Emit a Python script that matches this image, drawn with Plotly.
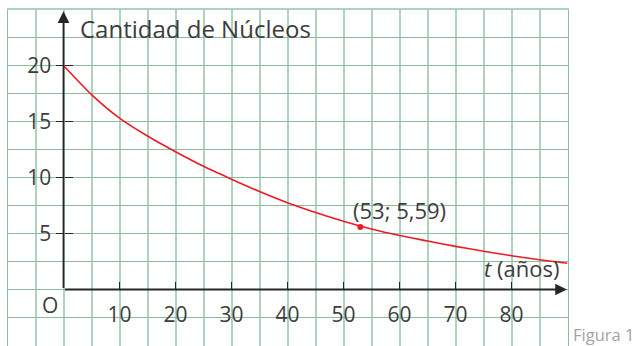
import plotly.graph_objects as go

# Decay curve readings: time in years, number of nuclei
t_years = [0, 5, 10, 15, 20, 25, 30, 35, 40, 45, 50, 55, 60, 65, 70, 75, 80, 85, 90]
nuclei = [20.0, 17.4, 15.3, 13.7, 12.3, 11.0, 9.85, 8.75, 7.75, 6.88, 6.1, 5.4,
          4.82, 4.33, 3.85, 3.42, 3.02, 2.66, 2.34]

# Highlighted point
point_t = 53
point_n = 5.59

x_ticks = [10, 20, 30, 40, 50, 60, 70, 80]
y_ticks = [5, 10, 15, 20]

X_RANGE = [-10, 90]
Y_RANGE = [-5, 25]

W, H = 638, 346
# plot area in pixels
PX_L, PX_R = 7.5, 567.5
PX_T, PX_B = 9.5, 345.5
x_dom = [PX_L / W, PX_R / W]
y_dom = [(H - PX_B) / H, (H - PX_T) / H]

# paper positions of the origin
x0_paper = x_dom[0] + (0 - X_RANGE[0]) / (X_RANGE[1] - X_RANGE[0]) * (x_dom[1] - x_dom[0])
y0_paper = y_dom[0] + (0 - Y_RANGE[0]) / (Y_RANGE[1] - Y_RANGE[0]) * (y_dom[1] - y_dom[0])

FONT = "Open Sans"
TXT = "#3c3c3c"
AX = "#262626"
RED = "#ec1c24"

fig = go.Figure()

fig.add_trace(go.Scatter(
    x=t_years, y=nuclei, mode="lines",
    line=dict(color=RED, width=1.6, shape="spline", smoothing=0.6),
    hoverinfo="skip", showlegend=False,
))
fig.add_trace(go.Scatter(
    x=[point_t], y=[point_n], mode="markers",
    marker=dict(color=RED, size=6),
    hoverinfo="skip", showlegend=False,
))
# placeholders so the overlay axes get drawn
for xa, ya in [("x2", "y"), ("x", "y2"), ("x", "y3")]:
    fig.add_trace(go.Scatter(x=[None], y=[None], xaxis=xa, yaxis=ya,
                             hoverinfo="skip", showlegend=False))

grid_h = "rgb(140,188,158)"
grid_v = "rgb(172,211,190)"

fig.update_layout(
    width=W, height=H,
    margin=dict(l=0, r=0, t=0, b=0),
    paper_bgcolor="white", plot_bgcolor="white",
    font=dict(family=FONT, color=TXT, size=21),
    xaxis=dict(
        domain=x_dom, range=X_RANGE, dtick=5, tick0=0,
        showgrid=True, gridcolor=grid_v, gridwidth=1.5,
        showticklabels=False, ticks="", zeroline=False,
        showline=True, mirror=True, linecolor=grid_v, linewidth=1.5,
    ),
    yaxis=dict(
        domain=y_dom, range=Y_RANGE, dtick=2.5, tick0=0,
        showgrid=True, gridcolor=grid_h, gridwidth=1,
        showticklabels=False, ticks="", zeroline=False,
        showline=True, mirror=True, linecolor=grid_h, linewidth=1,
    ),
    xaxis2=dict(
        overlaying="x", anchor="free", position=y0_paper, range=X_RANGE,
        tickvals=x_ticks, ticktext=[str(v) for v in x_ticks],
        ticks="inside", ticklen=8, tickwidth=1.3, tickcolor=AX,
        showgrid=False, zeroline=False, showline=False,
        tickfont=dict(family=FONT, size=21, color=TXT),
        ticklabelstandoff=10,
    ),
    yaxis2=dict(
        overlaying="y", anchor="free", position=x0_paper, side="left",
        range=Y_RANGE, tickvals=y_ticks, ticktext=[str(v) for v in y_ticks],
        ticks="outside", ticklen=8, tickwidth=1.3, tickcolor=AX,
        showgrid=False, zeroline=False, showline=False,
        tickfont=dict(family=FONT, size=21, color=TXT),
        ticklabelstandoff=0,
    ),
    yaxis3=dict(
        overlaying="y", anchor="free", position=x0_paper, side="left",
        range=Y_RANGE, tickvals=y_ticks, showticklabels=False,
        ticks="inside", ticklen=8, tickwidth=1.3, tickcolor=AX,
        showgrid=False, zeroline=False, showline=False,
    ),
)

# axis lines with arrowheads
fig.add_annotation(x=0, y=24.85, ax=0, ay=0, xref="x", yref="y", axref="x", ayref="y",
                   text="", showarrow=True, arrowhead=2, arrowsize=1.3,
                   arrowwidth=1.8, arrowcolor=AX, standoff=0)
fig.add_annotation(x=89.9, y=0, ax=0, ay=0, xref="x", yref="y", axref="x", ayref="y",
                   text="", showarrow=True, arrowhead=2, arrowsize=1.3,
                   arrowwidth=1.8, arrowcolor=AX, standoff=0)

# text labels
fig.add_annotation(x=2.6, y=23.3, xref="x", yref="y", xanchor="left", yanchor="middle",
                   text="Cantidad de Núcleos", showarrow=False,
                   font=dict(family=FONT, size=24, color=TXT))
fig.add_annotation(x=88.9, y=1.9, xref="x", yref="y", xanchor="right", yanchor="middle",
                   text="<i>t</i> (años)", showarrow=False,
                   font=dict(family=FONT, size=22, color=TXT))
fig.add_annotation(x=-2.4, y=-1.4, xref="x", yref="y", xanchor="center", yanchor="middle",
                   text="O", showarrow=False,
                   font=dict(family=FONT, size=21, color=TXT))
fig.add_annotation(x=point_t, y=point_n, xref="x", yref="y", xanchor="left", yanchor="middle",
                   xshift=-9, yshift=17,
                   text=f"({point_t}; {str(point_n).replace('.', ',')})", showarrow=False,
                   font=dict(family=FONT, size=22, color=TXT))
fig.add_annotation(x=635 / W, y=(H - 334) / H, xref="paper", yref="paper",
                   xanchor="right", yanchor="middle", text="Figura 1", showarrow=False,
                   borderpad=0, font=dict(family=FONT, size=16.5, color="#a3a3a3"))

fig.write_html("out.html")
